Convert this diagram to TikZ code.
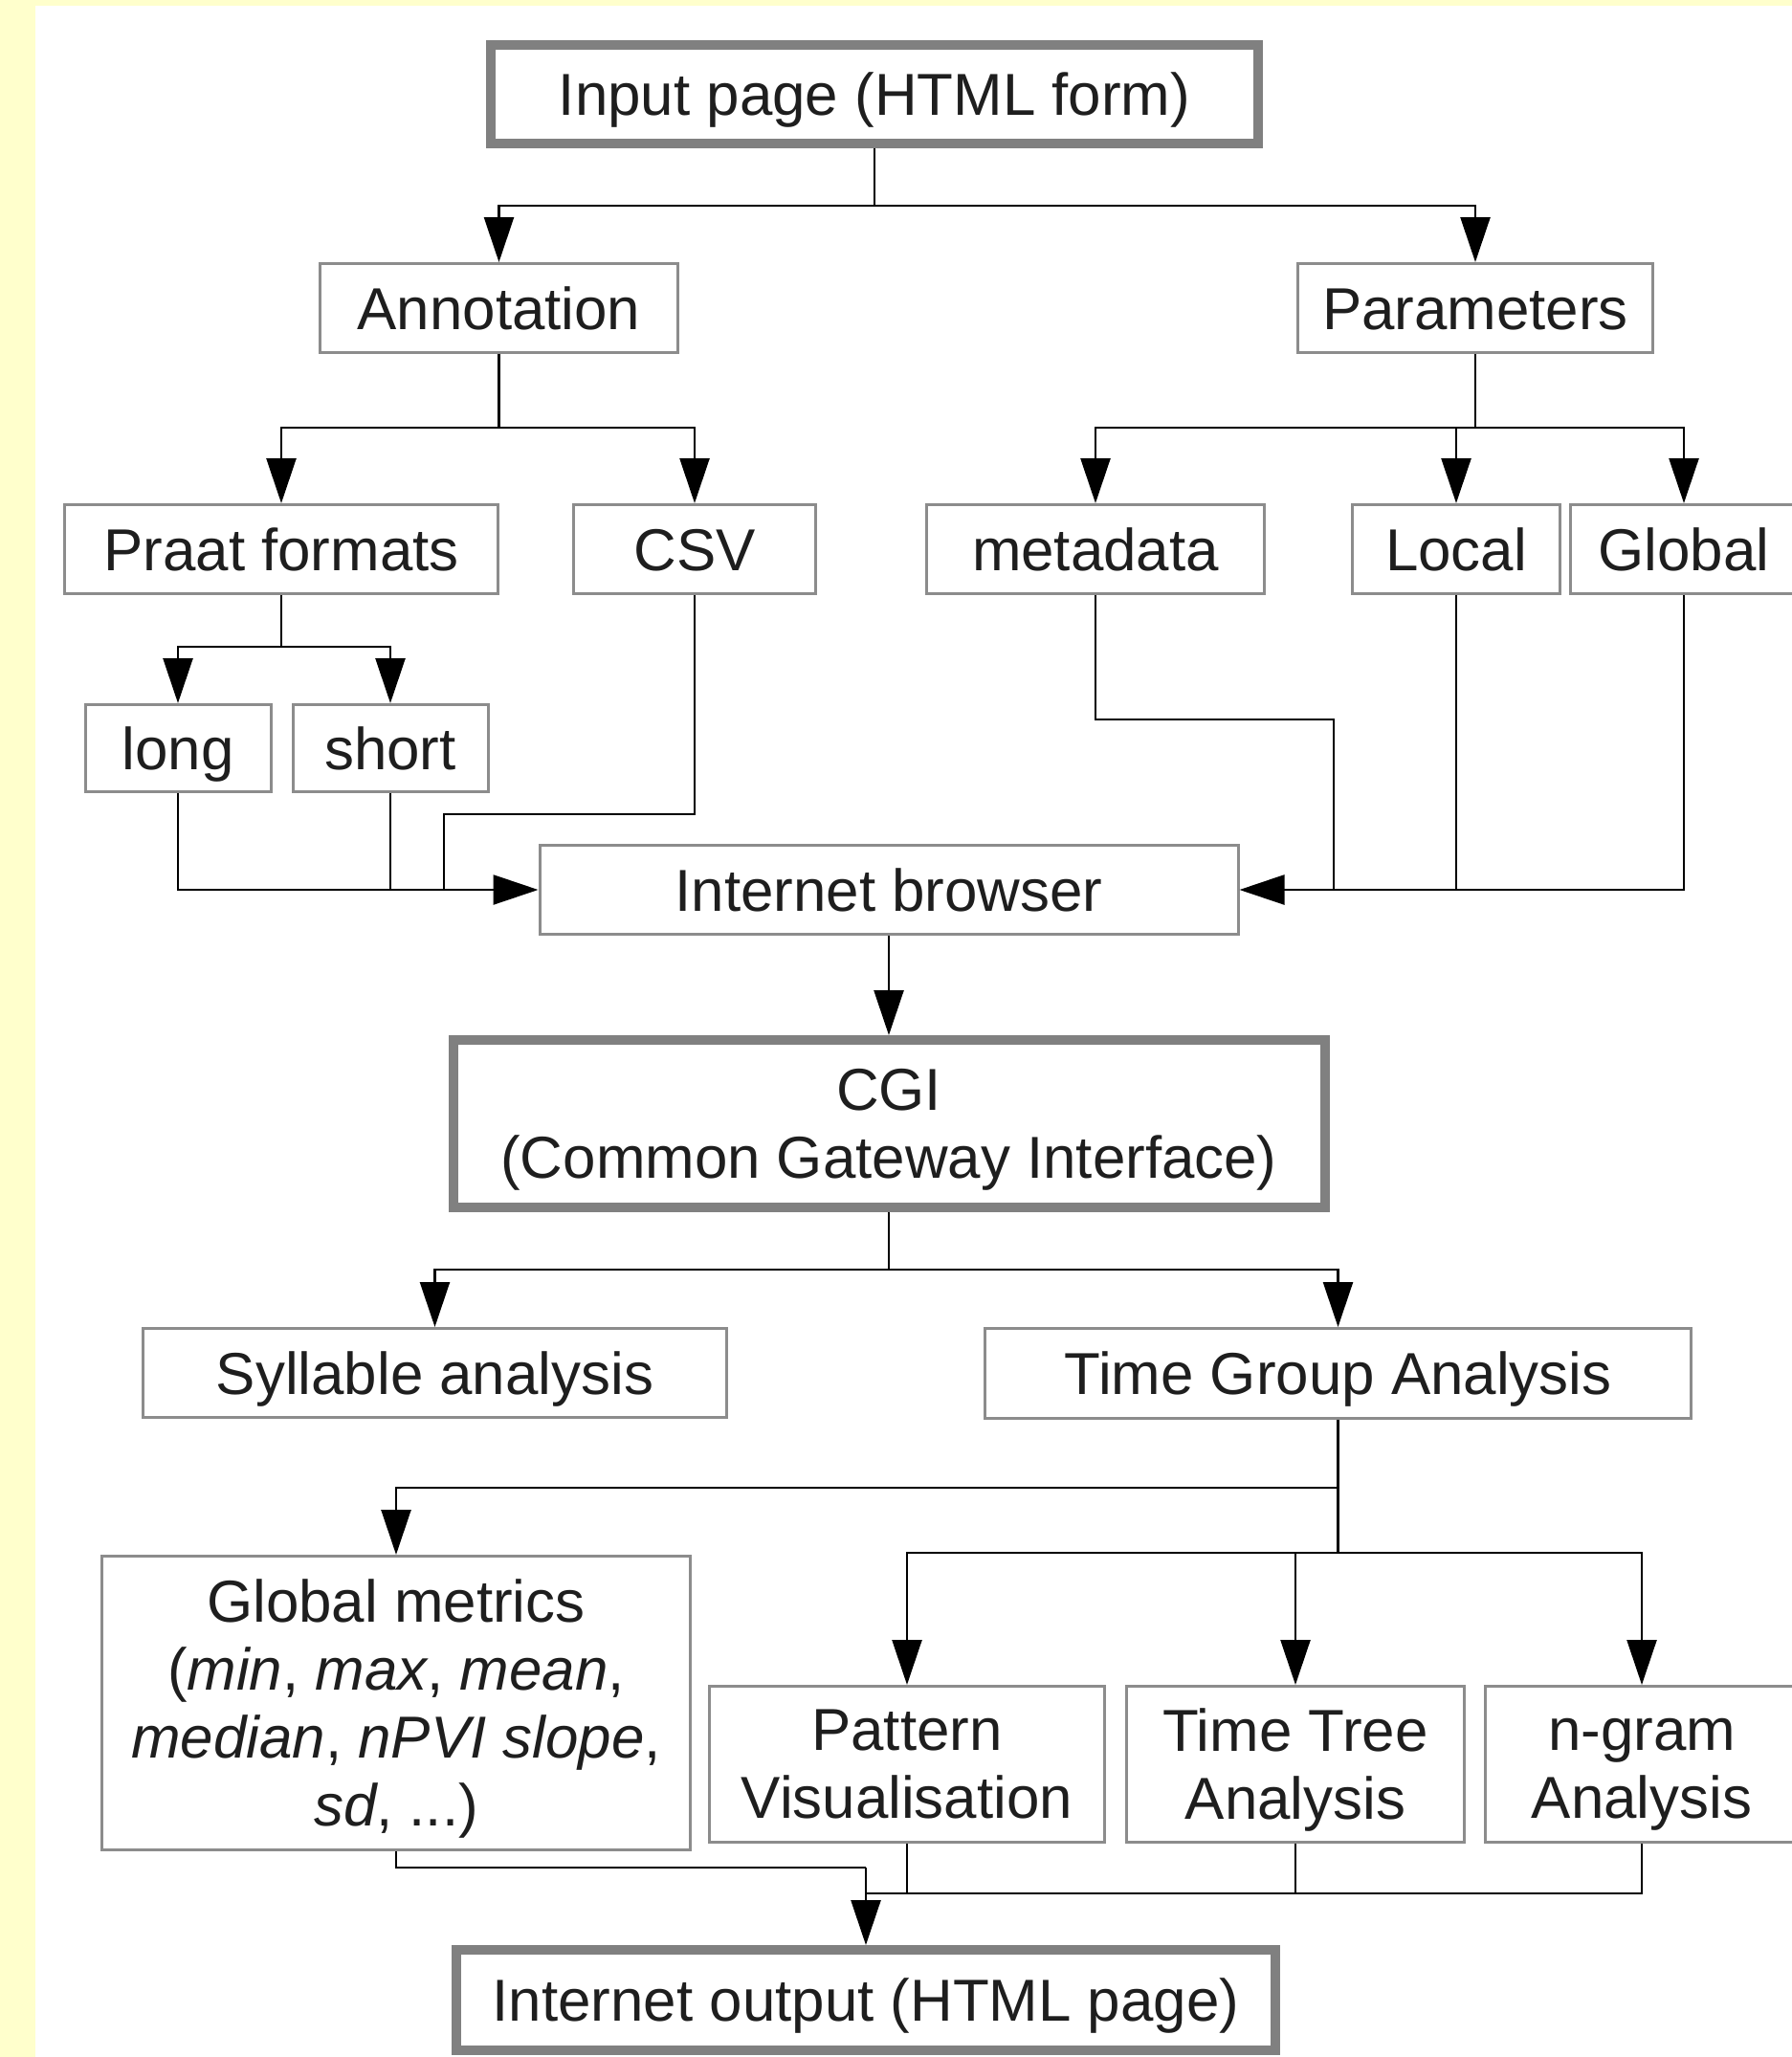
\documentclass[tikz,border=0pt]{standalone}
\usepackage{fontspec}
\setmainfont{Liberation Sans}
\usetikzlibrary{arrows.meta}
\definecolor{slideyellow}{HTML}{FFFFCC}
\definecolor{boxgray}{HTML}{8C8C8C}
\definecolor{thickgray}{HTML}{808080}
\definecolor{inkdark}{HTML}{1E1E1E}
\tikzset{
  box/.style={draw=boxgray, line width=0.03cm, fill=white, text=inkdark, minimum height=0.93cm, inner sep=0pt, align=center,
    text height=12.6pt, text depth=0pt},
  multi/.style={text height=, text depth=},
  thickbox/.style={box, draw=thickgray, line width=0.1cm},
  conn/.style={line width=0.7pt, black},
  connarr/.style={conn, -{Triangle[length=4.7mm, width=3.1mm]}},
}
\begin{document}
\begin{tikzpicture}[font=\fontsize{17.6}{20.2}\selectfont]
	\useasboundingbox (0,0) rectangle (18.73,-21.50);
	\fill[slideyellow] (0,0) rectangle (18.73,-21.50);
	\fill[white] (0.37,-0.06) rectangle (18.73,-21.50);

	% input side
	\node[thickbox, minimum width=8.02cm, minimum height=1.03cm] (inp) at (9.14,-0.985) {Input page (HTML form)};
	\node[box, minimum width=3.74cm] (anno) at (5.215,-3.22) {Annotation};
	\node[box, minimum width=3.71cm] (param) at (15.42,-3.22) {Parameters};
	\node[box, minimum width=4.53cm] (praat) at (2.94,-5.74) {Praat formats};
	\node[box, minimum width=2.53cm] (csv) at (7.26,-5.74) {CSV};
	\node[box, minimum width=3.53cm] (meta) at (11.45,-5.74) {metadata};
	\node[box, minimum width=2.17cm] (local) at (15.22,-5.74) {Local};
	\node[box, minimum width=2.37cm] (global) at (17.60,-5.74) {Global};
	\node[box, minimum width=1.94cm, minimum height=0.91cm] (long) at (1.86,-7.82) {long};
	\node[box, minimum width=2.04cm, minimum height=0.91cm] (short) at (4.08,-7.82) {short};
	\node[box, minimum width=7.30cm] (browser) at (9.29,-9.30) {Internet browser};

	% processing side
	\node[thickbox, multi, minimum width=9.11cm, minimum height=1.75cm] (cgi) at (9.29,-11.745) {CGI\\\smash{(Common Gateway Interface)}};
	\node[box, minimum width=6.10cm] (syll) at (4.545,-14.35) {Syllable analysis};
	\node[box, minimum width=7.38cm, minimum height=0.94cm] (tga) at (13.985,-14.355) {Time Group Analysis};
	\node[box, multi, minimum width=6.15cm, minimum height=3.07cm] (gm) at (4.14,-17.80) {Global metrics\\(\textit{min}, \textit{max}, \textit{mean},\\\textit{median}, \textit{nPVI slope},\\\smash{\textit{sd}, ...)}};
	\node[box, multi, minimum width=4.13cm, minimum height=1.63cm] (pat) at (9.48,-18.44) {Pattern\\Visualisation};
	\node[box, multi, minimum width=3.53cm, minimum height=1.63cm] (ttree) at (13.54,-18.44) {Time Tree\\\smash{Analysis}};
	\node[box, multi, minimum width=3.27cm, minimum height=1.63cm] (ngram) at (17.16,-18.44) {\vphantom{T}n-gram\\\smash{Analysis}};
	\node[thickbox, minimum width=8.56cm, minimum height=1.05cm] (out) at (9.05,-20.905) {Internet output (HTML page)};

	% junctions
	\coordinate (jinp) at (9.14,-2.15);
	\coordinate (janno) at (5.215,-4.47);
	\coordinate (jparam) at (15.42,-4.47);
	\coordinate (jpraat) at (2.94,-6.76);
	\coordinate (jcsv) at (4.64,-8.51);
	\coordinate (jmeta) at (13.94,-7.52);
	\coordinate (jcgi) at (9.29,-13.27);
	\coordinate (jgm) at (13.985,-15.55);
	\coordinate (jtga) at (13.985,-16.23);
	\coordinate (jout) at (9.05,-19.52);
	\coordinate (jana) at (9.05,-19.79);

	\draw[conn] (inp.south) -- (jinp);
	\draw[connarr] (jinp) -| (anno.north);
	\draw[connarr] (jinp) -| (param.north);
	\draw[conn] (anno.south) -- (janno);
	\draw[connarr] (janno) -| (praat.north);
	\draw[connarr] (janno) -| (csv.north);
	\draw[conn] (param.south) -- (jparam);
	\draw[connarr] (jparam) -| (meta.north);
	\draw[connarr] (jparam) -| (local.north);
	\draw[connarr] (jparam) -| (global.north);
	\draw[conn] (praat.south) -- (jpraat);
	\draw[connarr] (jpraat) -| (long.north);
	\draw[connarr] (jpraat) -| (short.north);

	\draw[connarr] (long.south) |- (browser.west);
	\draw[conn] (short.south) -- (short.south |- browser.west);
	\draw[conn] (csv.south) |- (jcsv) -- (jcsv |- browser.west);
	\draw[connarr] (global.south) |- (browser.east);
	\draw[conn] (local.south) -- (local.south |- browser.east);
	\draw[conn] (meta.south) |- (jmeta) -- (jmeta |- browser.east);

	\draw[connarr] (browser.south) -- (cgi.north);
	\draw[conn] (cgi.south) -- (jcgi);
	\draw[connarr] (jcgi) -| (syll.north);
	\draw[connarr] (jcgi) -| (tga.north);
	\draw[conn] (tga.south) -- (jtga);
	\draw[connarr] (jgm) -| (gm.north);
	\draw[connarr] (jtga) -| (pat.north);
	\draw[connarr] (jtga) -| (ttree.north);
	\draw[connarr] (jtga) -| (ngram.north);

	\draw[conn] (gm.south) |- (jout);
	\draw[conn] (pat.south) |- (jana);
	\draw[conn] (ngram.south) |- (jana);
	\draw[conn] (ttree.south) -- (ttree.south |- jana);
	\draw[connarr] (jout) -- (out.north);
\end{tikzpicture}
\end{document}
